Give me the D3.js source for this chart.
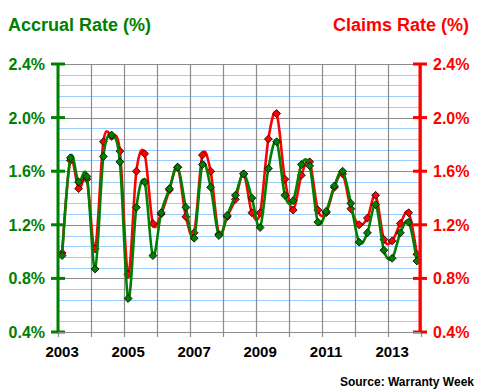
<!DOCTYPE html>
<html>
<head>
<meta charset="utf-8">
<script src="https://cdn.jsdelivr.net/npm/d3@7"></script>
<style>
  body { margin: 0; background: #fff; }
  text { font-family: Arial, "Liberation Sans", sans-serif; font-weight: bold; }
</style>
</head>
<body>
<svg width="480" height="390"></svg>
<script>
// quarterly warranty rates, 2003 Q1 .. 2013 Q4
var years = [2003, 2004, 2005, 2006, 2007, 2008, 2009, 2010, 2011, 2012, 2013];
var yearLabels = ["2003", "2005", "2007", "2009", "2011", "2013"];
var rateTicks = [0.4, 0.8, 1.2, 1.6, 2.0, 2.4];

//accrual rate (green, left axis)
var accrual = [0.97, 1.70, 1.52, 1.56, 0.87, 1.71, 1.87, 1.67, 0.65, 1.33, 1.52,
               0.97, 1.29, 1.47, 1.63, 1.33, 1.10, 1.65, 1.48, 1.12, 1.27, 1.42,
               1.58, 1.40, 1.18, 1.62, 1.82, 1.42, 1.38, 1.65, 1.64, 1.22, 1.30,
               1.49, 1.60, 1.36, 1.07, 1.14, 1.35, 1.01, 0.95, 1.14, 1.22, 0.93];
//claims rate (red, right axis)
var claims = [0.99, 1.68, 1.47, 1.54, 1.02, 1.82, 1.86, 1.75, 0.83, 1.60, 1.73,
              1.21, 1.28, 1.46, 1.63, 1.26, 1.14, 1.72, 1.60, 1.13, 1.26, 1.39,
              1.58, 1.29, 1.29, 1.84, 2.03, 1.54, 1.31, 1.57, 1.67, 1.31, 1.29,
              1.48, 1.58, 1.32, 1.20, 1.25, 1.42, 1.09, 1.08, 1.21, 1.29, 0.98];

var svg = d3.select("svg");
var plotLeft = 58, plotRight = 421, plotTop = 64, plotBottom = 332;

var x = d3.scaleLinear().domain([2003, 2014]).range([plotLeft, plotRight]);
var y = d3.scaleLinear().domain([0.4, 2.4]).range([plotBottom, plotTop]);

//quarter i sits in the middle of its quarter
var qx = function(i){ return x(2003 + (i + 0.5) / 4); };

//minor gridlines every 0.08
var minor = d3.range(0, 26).map(function(k){ return 0.4 + k * 0.08; });
svg.append("g").selectAll("line").data(minor).join("line")
   .attr("x1", plotLeft).attr("x2", plotRight)
   .attr("y1", function(d){ return Math.round(y(d)) + 0.5; })
   .attr("y2", function(d){ return Math.round(y(d)) + 0.5; })
   .attr("stroke", "#99ccff").attr("stroke-width", 1);

//major gridlines
svg.append("g").selectAll("line").data(rateTicks).join("line")
   .attr("x1", plotLeft).attr("x2", plotRight)
   .attr("y1", function(d){ return Math.round(y(d)) + 0.5; })
   .attr("y2", function(d){ return Math.round(y(d)) + 0.5; })
   .attr("stroke", "#8c8c8c").attr("stroke-width", 1.2);

//vertical year lines
svg.append("g").selectAll("line").data(years.concat([2014])).join("line")
   .attr("x1", function(d){ return Math.round(x(d)) + 0.5; })
   .attr("x2", function(d){ return Math.round(x(d)) + 0.5; })
   .attr("y1", plotTop).attr("y2", plotBottom + 5)
   .attr("stroke", "#8c8c8c").attr("stroke-width", 1.2);

//smoothed line + diamond markers
var line = d3.line()
  .x(function(d, i){ return qx(i); })
  .y(function(d){ return y(d); })
  .curve(d3.curveCardinal.tension(0));

var diamond = d3.symbol().type(d3.symbolDiamond2).size(40);

var draw_series = function(values, color){
  svg.append("path").datum(values)
     .attr("d", line)
     .attr("fill", "none")
     .attr("stroke", color)
     .attr("stroke-width", 2.6);
  svg.append("g").selectAll("path").data(values).join("path")
     .attr("d", diamond)
     .attr("transform", function(d, i){ return "translate(" + qx(i) + "," + y(d) + ")"; })
     .attr("fill", color)
     .attr("stroke", "#000")
     .attr("stroke-width", 0.8);
}

draw_series(claims, "#ff0000");
draw_series(accrual, "#008000");

//left axis (green)
svg.append("line").attr("x1", plotLeft).attr("x2", plotLeft).attr("y1", plotTop).attr("y2", plotBottom)
   .attr("stroke", "#008000").attr("stroke-width", 3);
svg.append("g").selectAll("line").data(rateTicks).join("line")
   .attr("x1", plotLeft - 7).attr("x2", plotLeft + 7)
   .attr("y1", function(d){ return y(d); }).attr("y2", function(d){ return y(d); })
   .attr("stroke", "#008000").attr("stroke-width", 3);
svg.append("g").selectAll("text").data(rateTicks).join("text")
   .attr("x", 45).attr("y", function(d){ return y(d) + 6; })
   .attr("text-anchor", "end")
   .attr("font-size", 16)
   .attr("fill", "#008000")
   .text(function(d){ return d.toFixed(1) + "%"; });

//right axis (red)
svg.append("line").attr("x1", plotRight - 1).attr("x2", plotRight - 1).attr("y1", plotTop).attr("y2", plotBottom)
   .attr("stroke", "#ff0000").attr("stroke-width", 3);
svg.append("g").selectAll("line").data(rateTicks).join("line")
   .attr("x1", plotRight - 8).attr("x2", plotRight + 6)
   .attr("y1", function(d){ return y(d); }).attr("y2", function(d){ return y(d); })
   .attr("stroke", "#ff0000").attr("stroke-width", 3);
svg.append("g").selectAll("text").data(rateTicks).join("text")
   .attr("x", 433).attr("y", function(d){ return y(d) + 6; })
   .attr("font-size", 16)
   .attr("fill", "#ff0000")
   .text(function(d){ return d.toFixed(1) + "%"; });

//bottom axis
svg.append("line").attr("x1", plotLeft).attr("x2", plotRight).attr("y1", plotBottom + 0.5).attr("y2", plotBottom + 0.5)
   .attr("stroke", "#8c8c8c").attr("stroke-width", 1.2);
svg.append("g").selectAll("text").data(yearLabels).join("text")
   .attr("x", function(d){ return x(+d + 0.125); })
   .attr("y", 357)
   .attr("text-anchor", "middle")
   .attr("font-size", 15)
   .attr("fill", "#000")
   .text(function(d){ return d; });

//titles
svg.append("text").attr("x", 8).attr("y", 31).attr("font-size", 18)
   .attr("fill", "#008000").text("Accrual Rate (%)");
svg.append("text").attr("x", 469).attr("y", 31).attr("font-size", 18)
   .attr("text-anchor", "end").attr("fill", "#ff0000").text("Claims Rate (%)");
svg.append("text").attr("x", 474).attr("y", 386).attr("font-size", 12)
   .attr("text-anchor", "end").attr("fill", "#000").text("Source: Warranty Week");
</script>
</body>
</html>
